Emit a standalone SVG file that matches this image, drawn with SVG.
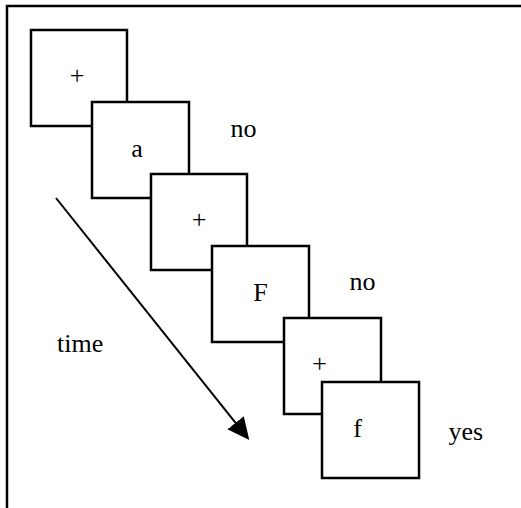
<svg xmlns="http://www.w3.org/2000/svg" width="521" height="508" viewBox="0 0 521 508">
  <style>
    .card { fill: #ffffff; stroke: #000000; stroke-width: 2.5; }
    .frame { fill: none; stroke: #000000; stroke-width: 2.5; }
    .lbl { font-family: "Liberation Serif", "Times New Roman", serif; font-size: 26px; fill: #000000; }
    .mid { text-anchor: middle; }
    .arrow { stroke: #000000; stroke-width: 2; fill: none; }
  </style>
  <defs>
    <marker id="head" markerUnits="userSpaceOnUse" markerWidth="24" markerHeight="22" refX="1" refY="10.5" orient="auto">
      <path d="M0,0 L22,10.5 L0,21 z" fill="#000000"/>
    </marker>
  </defs>

  <rect width="521" height="508" fill="#ffffff"/>

  <!-- enclosing frame: top and left edges -->
  <path class="frame" d="M7,508 V6 H521"/>

  <!-- stimulus sequence, each card drawn over the previous one -->
  <g id="card-fix1">
    <rect class="card" x="31" y="30" width="96" height="96"/>
    <text class="lbl mid" x="77" y="84">+</text>
  </g>
  <g id="card-a">
    <rect class="card" x="92" y="102" width="97" height="96"/>
    <text class="lbl mid" x="137" y="157">a</text>
  </g>
  <g id="card-fix2">
    <rect class="card" x="151" y="174" width="96" height="96"/>
    <text class="lbl mid" x="199" y="228">+</text>
  </g>
  <g id="card-F">
    <rect class="card" x="212" y="246" width="97" height="96"/>
    <text class="lbl mid" x="260.5" y="301">F</text>
  </g>
  <g id="card-fix3">
    <rect class="card" x="284" y="318" width="97" height="96"/>
    <text class="lbl mid" x="319.5" y="372">+</text>
  </g>
  <g id="card-f">
    <rect class="card" x="322" y="382" width="97" height="96"/>
    <text class="lbl mid" x="357.5" y="437">f</text>
  </g>

  <!-- responses -->
  <g id="resp-1"><text class="lbl" x="230.5" y="137">no</text></g>
  <g id="resp-2"><text class="lbl" x="349.5" y="290">no</text></g>
  <g id="resp-3"><text class="lbl" x="448.5" y="440">yes</text></g>

  <!-- time axis -->
  <g id="time-label"><text class="lbl" x="57" y="352">time</text></g>
  <g id="connectors">
    <line class="arrow" x1="56" y1="198" x2="236.2" y2="423.6" marker-end="url(#head)"/>
  </g>
</svg>
